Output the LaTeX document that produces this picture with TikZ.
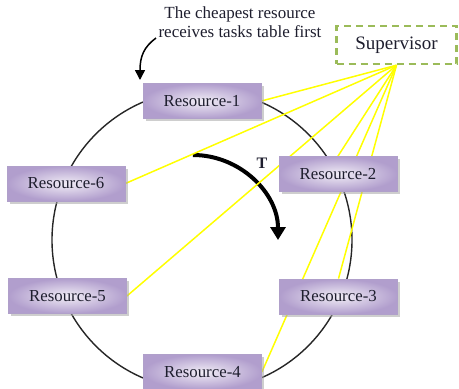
\documentclass[tikz,border=0pt]{standalone}
\usepackage{fontspec}
\setmainfont{Liberation Serif}
\usetikzlibrary{arrows.meta,shadows}
\pgfdeclarelayer{background}
\pgfsetlayers{background,main}
\definecolor{boxedge}{HTML}{B0A0CA}
\definecolor{boxdark}{HTML}{B19ECD}
\definecolor{boxlight}{HTML}{F1EDF6}
\definecolor{supgreen}{HTML}{9BBB59}
\definecolor{linkyellow}{HTML}{FFFF00}
\definecolor{inktext}{HTML}{1E1E2E}
\begin{document}
\begin{tikzpicture}[x=1pt,y=-1pt,
  resbox/.style={draw=boxedge, line width=0.8pt, inner color=boxlight, outer color=boxdark,
    minimum width=118pt, minimum height=35pt, inner sep=0pt,
    font=\fontsize{16.8}{18}\selectfont, text=inktext,
    drop shadow={shadow xshift=2.5pt, shadow yshift=-2.5pt, fill=black!35, opacity=0.55}},
  supbox/.style={draw=supgreen, line width=2.4pt, dash pattern=on 7pt off 5pt,
    minimum width=120pt, minimum height=38pt, inner sep=0pt,
    font=\fontsize{19}{21}\selectfont, text=inktext},
  ring/.style={draw=black!85, line width=1.4pt},
  link/.style={draw=linkyellow, line width=1.5pt},
  turn/.style={draw=black, line width=4pt, -{Triangle[length=13pt,width=15pt]}},
  pointer/.style={draw=black, line width=1.5pt, -{Triangle[length=10pt,width=10pt]}},
  note/.style={align=center, font=\fontsize{17}{19}\selectfont, text=inktext, inner sep=0pt}]
\useasboundingbox (0,0) rectangle (459,389);

% resources placed around the ring
\node[resbox] (r1) at (202,101)   {Resource-1};
\node[resbox] (r2) at (338,174)   {Resource-2};
\node[resbox] (r3) at (338.5,296.5) {Resource-3};
\node[resbox] (r4) at (202.5,372) {Resource-4};
\node[resbox] (r5) at (67.5,296)  {Resource-5};
\node[resbox] (r6) at (66,183.5)  {Resource-6};

% supervisor
\node[supbox] (sup) at (396.5,45) {Supervisor};

% caption and its pointer
\node[note] (cap) at (240,22) {The cheapest resource\\receives tasks table first};
\coordinate (capfoot) at (156,38);
\coordinate (r1mark) at (140,80);
\draw[pointer] (capfoot) .. controls (144,47) and (140,56) .. (r1mark);

% direction of the table
\coordinate (turnc) at (193,240);
\node[font=\fontsize{16}{18}\selectfont\bfseries, text=inktext] (tlabel) at (262,163) {T};

\begin{pgfonlayer}{background}
  \coordinate (ringc) at (202,240);
  \draw[ring] (ringc) circle[radius=150];
  \draw[turn] ([yshift=85pt]turnc) arc[start angle=-90, end angle=0, radius=85];
  \draw[link] (sup.south) -- (r1.east);
  \draw[link] (sup.south) -- (r6.east);
  \draw[link] (sup.south) -- (r2.north);
  \draw[link] (sup.south) -- (r5.east);
  \draw[link] (sup.south) -- (r3.north);
  \draw[link] (sup.south) -- (r4.east);
\end{pgfonlayer}
\end{tikzpicture}
\end{document}
